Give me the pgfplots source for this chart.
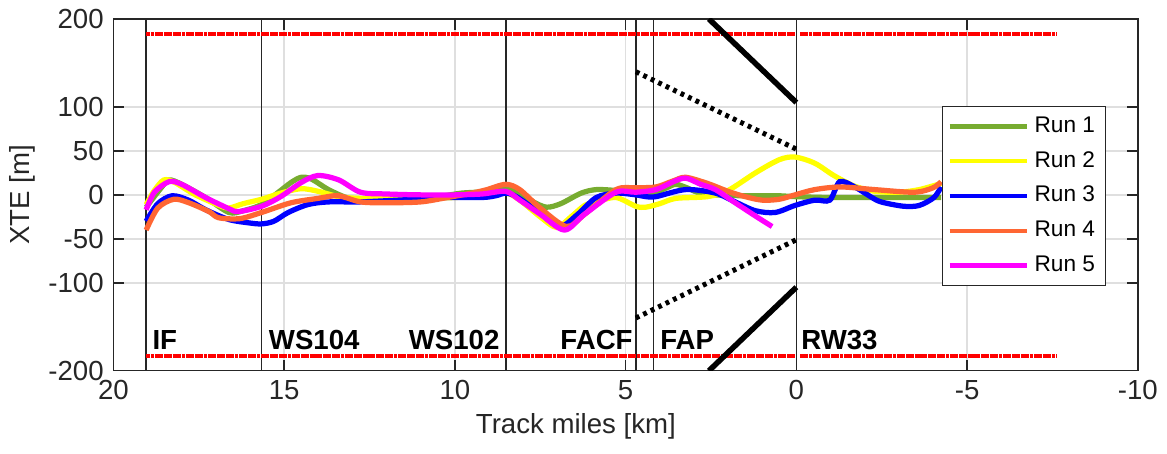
\documentclass[border=0pt]{standalone}
\usepackage{fontspec}
\setmainfont{Liberation Sans}
\usepackage{pgfplots}
\pgfplotsset{compat=1.18}
\definecolor{axgray}{rgb}{0.15,0.15,0.15}
\definecolor{run1}{RGB}{119,172,48}
\definecolor{run2}{RGB}{255,255,0}
\definecolor{run3}{RGB}{0,0,255}
\definecolor{run4}{RGB}{255,102,51}
\definecolor{run5}{RGB}{255,0,255}

\begin{document}
\begin{tikzpicture}
\begin{axis}[
  scale only axis,
  width=371pt, height=127.4pt,
  x dir=reverse,
  xmin=-10, xmax=20, ymin=-200, ymax=200,
  xtick={-10,-5,0,5,10,15,20},
  ytick={-200,-100,-50,0,50,100,200},
  tick align=inside,
  major tick length=4pt,
  tick style={axgray, line width=0.5pt},
  axis line style={axgray, line width=0.5pt},
  grid=major,
  major grid style={gray!25, line width=0.5pt},
  ticklabel style={font=\fontsize{10}{12}\selectfont, text=axgray},
  /pgf/number format/assume math mode=true,
  xlabel={Track miles [km]},
  ylabel={XTE [m]},
  label style={font=\fontsize{10}{12}\selectfont, text=axgray},
  xlabel style={xshift=-18pt, yshift=2pt},
  ylabel style={yshift=-2pt},
  legend style={at={(0.969,0.754)}, anchor=north east, draw=axgray,
    font=\fontsize{8.2}{9.5}\selectfont, row sep=1.4pt, inner sep=1.8pt},
  legend cell align=left,
  legend image code/.code={\draw[#1, line width=1.6pt] (0pt,0pt) -- (28pt,0pt);},
]
% waypoint markers
\addplot[black!85, line width=0.55pt, forget plot] coordinates {(19.04,-200) (19.04,200)};
\addplot[black!85, line width=0.55pt, forget plot] coordinates {(15.66,-200) (15.66,200)};
\addplot[black!85, line width=0.55pt, forget plot] coordinates {(8.51,-200) (8.51,200)};
\addplot[black!85, line width=0.55pt, forget plot] coordinates {(4.70,-200) (4.70,200)};
\addplot[black!85, line width=0.55pt, forget plot] coordinates {(4.19,-200) (4.19,200)};
\addplot[black!85, line width=0.55pt, forget plot] coordinates {(0.0,-200) (0.0,200)};
% corridor limits
\addplot[red, line width=1.5pt, dash pattern=on 1.4pt off 0.2pt, forget plot] coordinates {(19.04,183) (0.03,183)};
\addplot[red, line width=1.5pt, dash pattern=on 1.4pt off 0.2pt, forget plot] coordinates {(-0.1,183) (-7.64,183)};
\addplot[red, line width=1.5pt, dash pattern=on 1.4pt off 0.2pt, forget plot] coordinates {(19.04,-183) (0.03,-183)};
\addplot[red, line width=1.5pt, dash pattern=on 1.4pt off 0.2pt, forget plot] coordinates {(-0.1,-183) (-7.64,-183)};
% approach funnel
\addplot[black, line width=2pt, forget plot] coordinates {(2.56,200) (0,105)};
\addplot[black, line width=2pt, forget plot] coordinates {(2.56,-200) (0,-105)};
\addplot[black, line width=1.8pt, dash pattern=on 1.4pt off 1.6pt, forget plot] coordinates {(4.70,140) (0,52)};
\addplot[black, line width=1.8pt, dash pattern=on 1.4pt off 1.6pt, forget plot] coordinates {(4.70,-140) (0,-51)};

\addplot[run1, line width=1.9pt, smooth] coordinates {
 (19.04,-14) (18.6,8) (18.37,17) (18.0,12) (17.3,-3) (16.62,-20) (16.2,-18)
 (15.66,-11) (15.2,2) (14.8,14) (14.5,20) (14.2,18) (13.7,6) (13.1,-4)
 (12.5,-6) (11.5,-4) (10.5,-2) (9.8,2) (9.0,4) (8.51,9) (8.2,4) (7.7,-8)
 (7.31,-14) (6.9,-10) (6.3,2) (5.86,6) (5.3,5) (4.7,2) (4.4,2) (4.11,3)
 (3.8,8) (3.53,12) (3.2,8) (2.9,3) (2.37,0) (1.5,-1) (0.5,-1) (0.04,-2)
 (-1,-3) (-2.5,-3) (-4.24,-3)};
\addlegendentry{Run 1}
\addplot[run2, line width=1.9pt, smooth] coordinates {
 (19.04,-11) (18.8,5) (18.52,17) (18.2,14) (17.6,0) (16.9,-12) (16.62,-15)
 (16.2,-10) (15.66,-5) (15.1,2) (14.5,7) (14.0,4) (13.4,-2) (12.8,-4)
 (12.0,-4) (11.0,-4) (10.0,-3) (9.3,-1) (8.51,2) (8.1,-6) (7.5,-25)
 (7.02,-37) (6.6,-25) (6.2,-12) (5.86,-8) (5.28,-3) (4.70,-13) (4.41,-14)
 (4.0,-10) (3.53,-4) (2.6,-2) (2.0,5) (1.2,25) (0.5,40) (0.04,43)
 (-0.54,36) (-1.1,22) (-1.7,10) (-2.3,4) (-3.0,3) (-3.6,6) (-4.24,13)};
\addlegendentry{Run 2}
\addplot[run3, line width=1.9pt, smooth] coordinates {
 (19.04,-30) (18.7,-10) (18.28,-1) (17.8,-6) (17.29,-17) (16.62,-28)
 (16.0,-32) (15.66,-33) (15.3,-30) (14.88,-20) (14.3,-11) (13.7,-8)
 (12.8,-8) (11.68,-6) (10.22,-3) (9.2,-3) (8.8,-1) (8.51,2) (8.2,-2)
 (7.6,-18) (6.94,-36) (6.4,-22) (5.86,-3) (5.28,2) (4.70,0) (4.41,-2)
 (4.11,-2) (3.24,6) (2.37,2) (1.79,-8) (1.2,-18) (0.62,-20) (0.04,-12)
 (-0.54,-6) (-0.98,-6) (-1.27,15) (-1.71,9) (-2.3,-5) (-2.58,-9)
 (-3.16,-13) (-3.6,-12) (-4.03,-3) (-4.24,9)};
\addlegendentry{Run 3}
\addplot[run4, line width=1.9pt, smooth] coordinates {
 (19.04,-40) (18.7,-15) (18.23,-5) (17.79,-9) (17.2,-19) (16.92,-26)
 (16.3,-27) (15.66,-20) (14.8,-9) (14.01,-4) (13.42,-1) (12.76,-8)
 (12.0,-9) (11.0,-8) (10.22,-3) (9.5,2) (9.06,6) (8.51,12) (8.1,6)
 (7.5,-15) (6.73,-36) (6.2,-22) (5.28,6) (4.70,8) (4.11,9) (3.6,16)
 (3.24,20) (2.6,13) (2.0,4) (1.5,-2) (1.0,-6) (0.5,-5) (0.04,0)
 (-0.54,6) (-1.3,9) (-2.29,6) (-3.45,3) (-4.0,8) (-4.24,15)};
\addlegendentry{Run 4}
\addplot[run5, line width=1.9pt, smooth] coordinates {
 (19.04,-17) (18.8,3) (18.37,15) (18.0,12) (17.3,-3) (16.6,-16)
 (16.33,-19) (15.66,-13) (15.1,-2) (14.5,14) (14.01,22) (13.4,17)
 (12.76,3) (12.0,1) (11.0,0) (10.0,0) (9.2,1) (8.51,4) (8.1,-6)
 (7.5,-22) (6.79,-40) (6.2,-22) (5.28,3) (4.70,3) (4.11,6) (3.6,15)
 (3.24,19) (2.8,12) (2.37,6) (1.79,-9) (1.2,-24) (0.71,-36)};
\addlegendentry{Run 5}

\node[font=\bfseries\fontsize{10}{12}\selectfont, anchor=base west, inner sep=0pt] at (axis cs:18.87,-176) {IF};
\node[font=\bfseries\fontsize{10}{12}\selectfont, anchor=base west, inner sep=0pt] at (axis cs:15.46,-176) {WS104};
\node[font=\bfseries\fontsize{10}{12}\selectfont, anchor=base east, inner sep=0pt] at (axis cs:8.68,-176) {WS102};
\node[font=\bfseries\fontsize{10}{12}\selectfont, anchor=base east, inner sep=0pt] at (axis cs:4.78,-176) {FACF};
\node[font=\bfseries\fontsize{10}{12}\selectfont, anchor=base west, inner sep=0pt] at (axis cs:4.0,-176) {FAP};
\node[font=\bfseries\fontsize{10}{12}\selectfont, anchor=base west, inner sep=0pt] at (axis cs:-0.13,-176) {RW33};
\end{axis}
\path ([shift={(-41pt,-29.9pt)}]current axis.south west) rectangle ([shift={(7.9pt,6.5pt)}]current axis.north east);
\end{tikzpicture}
\end{document}
